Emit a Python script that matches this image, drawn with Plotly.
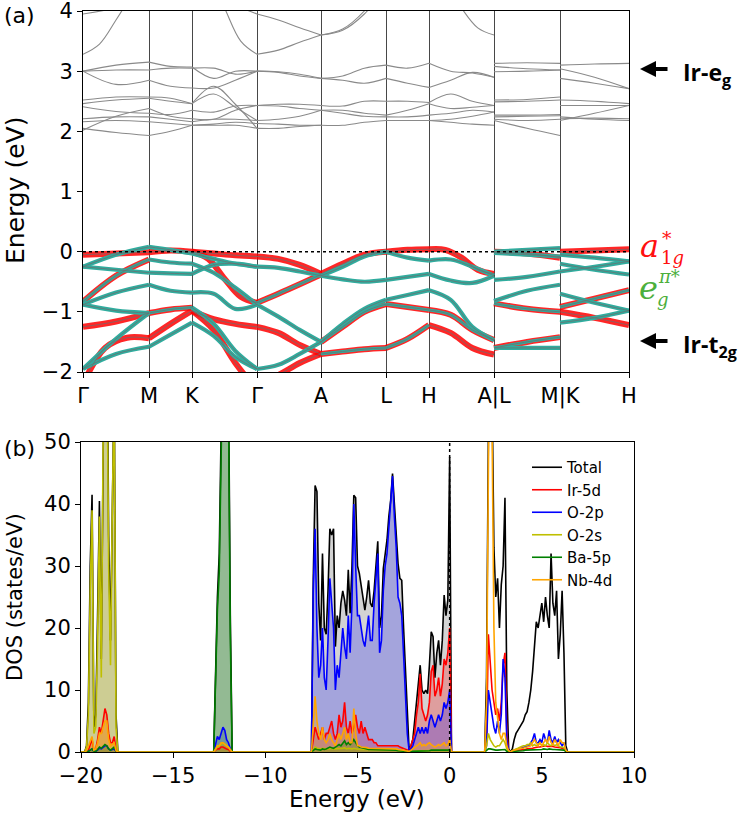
import plotly.graph_objects as go

FIG_W, FIG_H = 738, 813


def px(x):
    return x / FIG_W


def py(y):
    return 1 - y / FIG_H


# ---------------- band structure (panel a) ----------------
K_POS = [0, 66, 109, 174, 238, 303, 346, 411, 477, 546]
K_LABELS = ["Γ", "M", "K", "Γ", "A", "L", "H", "A|L", "M|K", "H"]

# valence (Ir t2g) bands per path segment; kind r = a1g* (red), t = eg(pi*) (teal), m = mixed
VB_GM = [("r", [-0.05, -0.03, -0.01]), ("t", [-0.25, -0.05, 0.08]), ("t", [-0.25, -0.30, -0.35]),
         ("m", [-0.83, -0.40, -0.13]), ("t", [-0.88, -0.68, -0.55]), ("t", [-0.88, -0.98, -1.02]),
         ("r", [-1.25, -1.16, -1.02]), ("t", [-1.95, -1.45, -1.02]), ("r", [-2.2, -1.6, -1.43, -1.44]),
         ("t", [-1.95, -1.7, -1.58])]
VB_MK = [("r", [-0.01, 0.02, 0.0]), ("t", [0.08, 0.03, -0.03]), ("t", [-0.13, -0.18, -0.2]),
         ("t", [-0.35, -0.36, -0.37]), ("t", [-0.55, -0.65, -0.68]), ("m", [-1.02, -0.96, -0.93]),
         ("r", [-1.44, -1.2, -0.98]), ("t", [-1.58, -1.38, -1.18])]
VB_KG = [("r", [0.0, -0.03, -0.06, -0.08]), ("r", [0.0, -0.12, -0.45, -0.75, -0.85]),
         ("t", [-0.03, -0.12, -0.2, -0.25]), ("t", [-0.2, -0.35, -0.6, -0.88]),
         ("t", [-0.37, -0.22, -0.2, -0.25]), ("t", [-0.68, -0.7, -0.95, -0.88]),
         ("r", [-0.98, -1.12, -1.2, -1.25]), ("t", [-0.93, -1.2, -1.65, -1.95]),
         ("r", [-0.98, -1.3, -1.85, -2.3]), ("t", [-1.18, -1.4, -1.75, -1.95])]
VB_GA = [("r", [-0.08, -0.12, -0.22, -0.37]), ("m", [-0.85, -0.7, -0.54, -0.38]),
         ("t", [-0.25, -0.27, -0.33, -0.4]), ("t", [-0.88, -1.08, -1.3, -1.5]),
         ("t", [-1.95, -1.88, -1.7, -1.5]), ("r", [-1.25, -1.35, -1.55, -1.7]),
         ("r", [-2.2, -2.05, -1.85, -1.7])]
VB_AL = [("r", [-0.37, -0.2, -0.05, 0.0]), ("t", [-0.4, -0.25, -0.08, 0.0]),
         ("t", [-0.4, -0.46, -0.5, -0.47]), ("t", [-1.5, -1.2, -0.95, -0.8]),
         ("m", [-1.5, -1.25, -1.0, -0.87]), ("m", [-1.7, -1.66, -1.62, -1.6])]
VB_LH = [("r", [0.0, 0.03, 0.04]), ("t", [0.0, -0.1, -0.15]), ("t", [-0.47, -0.42, -0.37]),
         ("t", [-0.8, -0.72, -0.64]), ("m", [-0.87, -0.92, -0.97]), ("m", [-1.6, -1.45, -1.22])]
VB_HA = [("r", [0.04, 0.03, -0.1, -0.3, -0.37]), ("t", [-0.15, -0.13, -0.25, -0.4]),
         ("t", [-0.37, -0.48, -0.52, -0.4]), ("t", [-0.64, -0.8, -1.25, -1.47]),
         ("m", [-0.97, -1.05, -1.3, -1.47]), ("r", [-1.22, -1.35, -1.6, -1.71])]
VB_LM = [("r", [0.0, -0.03, -0.1]), ("t", [0.0, 0.03, 0.06]), ("t", [-0.02, -0.05, -0.08]),
         ("t", [-0.47, -0.42, -0.33]), ("t", [-0.82, -0.65, -0.55]), ("m", [-0.86, -0.95, -1.0]),
         ("m", [-1.6, -1.5, -1.42]), ("t", [-1.6, -1.6, -1.6])]
VB_KH = [("r", [0.0, 0.02, 0.04]), ("t", [-0.05, -0.1, -0.16]), ("t", [-0.2, -0.3, -0.38]),
         ("t", [-0.33, -0.25, -0.16]), ("t", [-0.7, -0.85, -0.98]), ("m", [-0.92, -0.78, -0.64]),
         ("r", [-1.0, -1.1, -1.22]), ("t", [-1.18, -1.1, -0.98])]

# conduction bands (grey)
CB_GM = [[3.0, 3.1, 3.15], [3.0, 3.02, 3.02], [3.0, 2.78, 2.85], [2.52, 2.57, 2.57],
         [2.46, 2.52, 2.55], [2.41, 2.33, 2.3], [2.21, 2.24, 2.24], [2.16, 2.18, 2.16],
         [2.02, 2.25, 2.38], [2.05, 1.98, 1.93], [3.28, 3.45, 3.85, 4.3, 4.8], [3.95, 4.05, 4.2]]
CB_MK = [[3.15, 3.08, 3.07], [3.02, 3.05, 3.05], [2.85, 2.75, 2.72], [2.57, 2.55, 2.46],
         [2.55, 2.5, 2.46], [2.3, 2.28, 2.35], [2.38, 2.25, 2.21], [2.24, 2.2, 2.16],
         [2.16, 2.13, 2.1], [1.93, 2.0, 2.1]]
CB_KG = [[3.07, 2.88, 3.0, 3.0], [3.05, 3.05, 2.95, 3.0], [2.72, 2.72, 2.85, 3.0],
         [2.46, 2.75, 2.45, 2.05], [2.46, 2.62, 2.4, 2.18], [2.35, 2.32, 2.42, 2.43],
         [2.21, 2.2, 2.35, 2.43], [2.16, 2.2, 2.2, 2.18], [2.1, 2.12, 2.15, 2.13],
         [2.1, 2.1, 2.1, 2.05], [5.0, 4.6, 4.05, 3.5, 3.28], [4.5, 4.3, 4.1, 3.95]]
CB_GA = [[3.28, 3.35, 3.48, 3.6], [3.95, 3.85, 3.72, 3.6], [3.0, 2.98, 2.92, 2.88],
         [3.0, 2.99, 2.95, 2.88], [2.43, 2.45, 2.45, 2.43], [2.43, 2.42, 2.38, 2.35],
         [2.18, 2.2, 2.25, 2.35], [2.05, 2.05, 2.08, 2.1], [2.13, 2.12, 2.1, 2.1]]
CB_AL = [[3.6, 3.7, 4.0, 4.5], [3.6, 3.68, 3.95, 4.4], [2.88, 2.92, 3.05, 3.1],
         [2.88, 2.85, 2.8, 2.88], [2.43, 2.42, 2.5, 2.5], [2.35, 2.35, 2.3, 2.27],
         [2.35, 2.3, 2.25, 2.24], [2.1, 2.1, 2.15, 2.18]]
CB_LH = [[3.1, 3.05, 3.13], [2.88, 2.8, 2.73], [2.5, 2.5, 2.48], [2.27, 2.35, 2.46],
         [2.24, 2.24, 2.27], [2.18, 2.18, 2.18]]
CB_HA = [[3.13, 3.0, 2.97, 2.9], [2.73, 2.85, 2.98, 2.9], [2.48, 2.62, 2.5, 2.43],
         [2.46, 2.38, 2.4, 2.43], [2.27, 2.3, 2.35, 2.32], [2.18, 2.2, 2.25, 2.32],
         [2.18, 2.15, 2.12, 2.1], [5.0, 4.5, 4.05, 3.72, 3.6]]
CB_LM = [[3.13, 3.14, 3.13], [3.08, 3.04, 3.02], [2.99, 3.0, 3.02], [2.52, 2.53, 2.57],
         [2.49, 2.5, 2.52], [2.27, 2.27, 2.28], [2.24, 2.25, 2.26], [2.18, 2.05, 1.93],
         [2.2, 2.18, 2.2]]
CB_KH = [[3.1, 3.12, 3.13], [3.04, 2.9, 2.71], [2.88, 2.8, 2.71], [2.52, 2.5, 2.46],
         [2.43, 2.43, 2.43], [2.24, 2.2, 2.18], [2.21, 2.22, 2.21], [2.18, 2.3, 2.43]]

VB_SEGS = [VB_GM, VB_MK, VB_KG, VB_GA, VB_AL, VB_LH, VB_HA, VB_LM, VB_KH]
CB_SEGS = [CB_GM, CB_MK, CB_KG, CB_GA, CB_AL, CB_LH, CB_HA, CB_LM, CB_KH]

# ---------------- DOS (panel b) ----------------
E_A = [-19.8, -19.7, -19.6, -19.5, -19.4, -19.3, -19.2, -19.1, -19.0, -18.9,
       -18.8, -18.7, -18.6, -18.5, -18.4, -18.3, -18.2, -18.1, -18.0]
E_B = [-12.8, -12.7, -12.6, -12.5, -12.4, -12.3, -12.2, -12.1, -12.0, -11.9, -11.8]
E_C = [-7.5, -7.4, -7.3, -7.2, -7.1, -7.0, -6.9, -6.8, -6.7, -6.6,
       -6.5, -6.4, -6.3, -6.2, -6.1, -6.0, -5.9, -5.8, -5.7, -5.6,
       -5.5, -5.4, -5.3, -5.2, -5.1, -5.0, -4.9, -4.8, -4.7, -4.6,
       -4.5, -4.4, -4.3, -4.2, -4.1, -4.0, -3.9, -3.8, -3.7, -3.6,
       -3.5, -3.4, -3.3, -3.2, -3.1, -3.0, -2.9, -2.8, -2.7, -2.6,
       -2.5, -2.4, -2.3, -2.2, -2.1, -2.0, -1.9, -1.8, -1.7, -1.6,
       -1.5, -1.4, -1.3, -1.2, -1.1, -1.0, -0.9, -0.8, -0.7, -0.6,
       -0.5, -0.4, -0.3, -0.2, -0.1, 0.0, 0.1]
E_D = [1.9, 2.0, 2.1, 2.2, 2.3, 2.4, 2.5, 2.6, 2.7, 2.8,
       2.9, 3.0, 3.1, 3.2, 3.3, 3.4, 3.5, 3.6, 3.7, 3.8,
       3.9, 4.0, 4.1, 4.2, 4.3, 4.4, 4.5, 4.6, 4.7, 4.8,
       4.9, 5.0, 5.1, 5.2, 5.3, 5.4, 5.5, 5.6, 5.7, 5.8,
       5.9, 6.0, 6.1, 6.2, 6.3, 6.4]

TOT_A = [0, 1, 8, 30, 41.5, 4, 6, 22, 40.5, 15, 55, 80, 75, 35, 18, 43, 60, 6, 0]
IR_A = [0, 0, 0.3, 1, 2, 0.3, 0.5, 2, 4, 3, 5, 7, 6, 3, 1.5, 1.5, 2.5, 0.3, 0]
OP_A = [0, 0, 0.1, 0.3, 0.5, 0.1, 0.1, 0.3, 0.6, 0.5, 0.8, 1, 1, 0.5, 0.3, 0.4, 0.5, 0.1, 0]
OS_A = [0, 0.8, 6, 26, 39, 3, 4, 18, 38, 12, 50, 72, 68, 30, 14, 40, 58, 4, 0]
BA_A = [0, 0, 0.1, 0.3, 0.5, 0.1, 0.1, 0.4, 0.8, 0.6, 1, 1.2, 1, 0.5, 0.3, 0.5, 0.8, 0.1, 0]
NB_A = [0, 0.2, 1, 2, 2.5, 0.3, 0.5, 1.5, 3, 3, 4, 5, 5, 2, 1, 1.2, 1.5, 0.2, 0]

TOT_B = [0, 14, 25, 32, 60, 85, 90, 75, 60, 22, 0]
IR_B = [0, 0.3, 0.5, 0.5, 0.8, 0.8, 0.6, 0.5, 0.4, 0.1, 0]
OP_B = [0, 1.5, 2.5, 2, 3, 4, 3.5, 2, 1.5, 0.5, 0]
OS_B = [0, 0.5, 0.8, 1, 1.2, 1.5, 1.3, 1, 0.8, 0.3, 0]
BA_B = [0, 13, 23, 29, 56, 80, 84, 70, 56, 19, 0]
NB_B = [0, 0.5, 1, 1, 1.5, 1.5, 1.2, 1, 0.8, 0.3, 0]

TOT_C = [0, 28, 43, 42, 24, 18, 32, 20, 19, 26,
         36, 35, 36, 17, 22, 20, 24, 26, 24.5, 22,
         29.4, 22.4, 30, 41.4, 41, 30, 28.8, 26.6, 25, 22.9,
         25, 27.7, 24, 23.4, 26, 31, 34, 20, 22, 29.6,
         32, 34.2, 38, 40.6, 44.9, 39.6, 36, 30.4, 28, 27.7,
         20, 12.7, 5, 0.3, 1, 2, 5, 8, 10, 14,
         10, 9.4, 10, 9.4, 14, 19.4, 18.6, 12, 15.9, 18,
         14, 18, 25.3, 22, 24.5, 47.6, 0]
IR_C = [0, 2, 4, 3, 2, 3, 4, 2, 3, 3,
        4, 5, 3, 2, 3, 6, 4, 5, 8, 4,
        3, 5, 3, 4, 6, 4, 3, 5, 3, 4,
        3, 2, 2, 2, 1.5, 1.5, 1, 1, 1, 1,
        1, 1, 1, 1, 1, 1, 1, 1, 0.8, 0.7,
        0.5, 0.4, 0.3, 0.2, 1, 2, 3, 6, 8, 12.6,
        7, 6, 5, 6, 8, 13, 14, 9, 10, 12,
        9, 11, 15, 14, 16, 20, 0]
OP_C = [0, 26, 36, 20, 12, 14, 20, 12, 10, 18,
        28, 24, 20, 10, 14, 12, 16, 20, 17, 15,
        22, 16, 24, 40, 30, 22, 22, 20, 18, 17,
        20, 22, 18, 18, 24, 29, 32, 16, 18, 26,
        30, 32, 36, 40, 44.5, 38, 33, 25, 24, 22,
        15, 8, 3, 0.2, 0.5, 1, 2, 3, 4, 3,
        4, 3, 4, 3, 5, 6, 5, 4, 5, 6,
        5, 6, 8, 7, 8, 10, 0]
OS_C = [0, 0.5, 0.8, 0.6, 0.5, 0.5, 0.6, 0.5, 0.5, 0.5,
        0.6, 0.6, 0.5, 0.5, 0.5, 0.6, 0.5, 0.6, 0.7, 0.5,
        0.6, 0.5, 0.5, 0.6, 0.5, 0.5, 0.4, 0.4, 0.4, 0.4,
        0.4, 0.4, 0.4, 0.3, 0.3, 0.3, 0.3, 0.3, 0.3, 0.3,
        0.3, 0.3, 0.3, 0.3, 0.3, 0.3, 0.3, 0.3, 0.2, 0.2,
        0.2, 0.1, 0.1, 0, 0.1, 0.1, 0.1, 0.2, 0.2, 0.2,
        0.2, 0.2, 0.2, 0.2, 0.2, 0.2, 0.2, 0.2, 0.2, 0.2,
        0.2, 0.2, 0.2, 0.2, 0.2, 0.3, 0]
BA_C = [0, 0.3, 0.5, 0.4, 0.3, 0.3, 0.5, 0.4, 0.5, 0.6,
        0.8, 0.7, 0.6, 0.8, 1, 1.2, 1, 1.5, 1.8, 1.2,
        1.5, 1.2, 1.5, 2, 1.5, 1, 0.8, 0.7, 0.6, 0.5,
        0.5, 0.4, 0.4, 0.4, 0.3, 0.3, 0.3, 0.3, 0.3, 0.3,
        0.3, 0.3, 0.3, 0.3, 0.3, 0.3, 0.3, 0.2, 0.2, 0.2,
        0.1, 0.1, 0.05, 0, 0.05, 0.1, 0.1, 0.2, 0.2, 0.2,
        0.2, 0.2, 0.2, 0.2, 0.2, 0.3, 0.3, 0.2, 0.2, 0.3,
        0.2, 0.3, 0.3, 0.3, 0.3, 0.4, 0]
NB_C = [0, 5, 9, 5, 3, 2, 4, 2, 1.5, 2,
        3, 2, 1.5, 1, 2, 3, 2, 3, 4, 2,
        3, 1.5, 1.5, 7, 3, 1, 1, 0.8, 0.8, 0.7,
        0.7, 0.6, 0.6, 0.5, 0.5, 0.5, 0.5, 0.5, 0.5, 0.5,
        0.5, 0.5, 0.5, 0.5, 0.5, 0.5, 0.5, 0.4, 0.4, 0.3,
        0.3, 0.2, 0.2, 0.1, 0.3, 0.5, 0.8, 1, 1.2, 1.5,
        1, 1.2, 1, 1.3, 1.5, 1.2, 1, 0.8, 1, 1.2,
        1, 1.2, 1.5, 1, 1.2, 2, 0]

TOT_D = [0, 12, 55, 90, 58, 33, 25, 28, 20, 27,
         30, 41, 10, 0.5, 0, 0.5, 2, 3, 3.5, 4,
         4.5, 5, 6, 6.5, 8, 10, 13, 17, 21, 20,
         22, 24, 21, 25, 22, 20, 32, 24, 22, 26,
         15, 19, 26, 16, 1, 0]
IR_D = [0, 2, 19, 15, 10, 8, 6, 7, 5, 8,
        14, 16, 3, 0.2, 0, 0.1, 0.2, 0.2, 0.3, 0.3,
        0.3, 0.4, 0.4, 0.5, 0.5, 0.6, 0.6, 0.7, 0.8, 0.8,
        0.8, 0.9, 0.9, 1, 0.9, 0.9, 1, 0.9, 0.8, 0.8,
        0.7, 0.7, 0.6, 0.5, 0.1, 0]
OP_D = [0, 1, 10, 8, 6, 4, 3, 5, 3, 6,
        15, 12, 2, 0.2, 0, 0.2, 0.3, 0.4, 0.5, 0.6,
        0.6, 0.7, 0.8, 1, 1, 1.5, 2, 3, 1.5, 1.5,
        2, 1.5, 3, 2, 1.5, 3.5, 2, 1.5, 2.5, 1.5,
        2, 1.5, 1, 1.5, 0.3, 0]
OS_D = [0, 1, 3, 2, 1.5, 1, 0.8, 1, 1, 1.5,
        2, 1.5, 0.5, 0.1, 0, 0.2, 0.4, 0.5, 0.6, 0.8,
        0.9, 1, 1, 1.2, 1.2, 1.5, 1, 1.2, 1, 1.2,
        1.5, 1, 1.2, 1, 1.5, 1.2, 1, 1.3, 1, 1.2,
        1, 0.8, 0.8, 0.7, 0.2, 0]
BA_D = [0, 0.2, 0.5, 0.5, 0.4, 0.3, 0.3, 0.3, 0.3, 0.3,
        0.4, 0.4, 0.1, 0, 0, 0.1, 0.1, 0.2, 0.2, 0.2,
        0.2, 0.2, 0.3, 0.3, 0.3, 0.3, 0.3, 0.4, 0.4, 0.4,
        0.4, 0.4, 0.5, 0.4, 0.4, 0.5, 0.4, 0.4, 0.4, 0.4,
        0.3, 0.3, 0.3, 0.3, 0.1, 0]
NB_D = [0, 8, 45, 80, 52, 20, 8, 5, 3, 2,
        3, 3, 1, 0.2, 0, 0.2, 0.3, 0.4, 0.5, 0.5,
        0.6, 0.6, 0.7, 0.8, 0.8, 1, 1.5, 2, 1.5, 1,
        1.5, 1, 1.5, 2, 1.5, 2.5, 1.5, 1.2, 2, 1.5,
        1, 2, 1.5, 1.5, 0.3, 0]

DOS_NAMES = ["Total", "Ir-5d", "O-2p", "O-2s", "Ba-5p", "Nb-4d"]
DOS_PARTS = [(TOT_A, TOT_B, TOT_C, TOT_D), (IR_A, IR_B, IR_C, IR_D), (OP_A, OP_B, OP_C, OP_D),
             (OS_A, OS_B, OS_C, OS_D), (BA_A, BA_B, BA_C, BA_D), (NB_A, NB_B, NB_C, NB_D)]
DOS_COLORS = ["#000000", "#ff0000", "#0000ff", "#bfbf00", "#008000", "#ffa500"]
DOS_FILLS = ["rgba(128,128,128,0.35)", "rgba(255,0,0,0.25)", "rgba(0,0,255,0.22)",
             "rgba(191,191,0,0.3)", "rgba(0,128,0,0.3)", "rgba(255,165,0,0.3)"]

FONT = "DejaVu Sans"

fig = go.Figure()


def collect_vb(kinds):
    xs, ys = [], []
    for i, seg in enumerate(VB_SEGS):
        k0, k1 = K_POS[i], K_POS[i + 1]
        for kind, vals in seg:
            if kind not in kinds:
                continue
            n = len(vals)
            for j, v in enumerate(vals):
                xs.append(k0 + (k1 - k0) * j / (n - 1))
                ys.append(v)
            xs.append(None)
            ys.append(None)
    return xs, ys


def collect_cb():
    xs, ys = [], []
    for i, seg in enumerate(CB_SEGS):
        k0, k1 = K_POS[i], K_POS[i + 1]
        for vals in seg:
            n = len(vals)
            for j, v in enumerate(vals):
                xs.append(k0 + (k1 - k0) * j / (n - 1))
                ys.append(v)
            xs.append(None)
            ys.append(None)
    return xs, ys


def band_trace(xy, color, width):
    return go.Scatter(x=xy[0], y=xy[1], mode="lines", showlegend=False, hoverinfo="skip",
                      line=dict(color=color, width=width, shape="spline", smoothing=1.0),
                      connectgaps=False, xaxis="x", yaxis="y")


fig.add_trace(band_trace(collect_cb(), "#8a8a8a", 1.1))
fig.add_trace(band_trace(collect_vb({"r", "m"}), "rgba(255,0,0,0.85)", 6))
fig.add_trace(band_trace(collect_vb({"t"}), "#30ac9e", 4.2))
fig.add_trace(band_trace(collect_vb({"m"}), "#30ac9e", 3))
fig.add_trace(band_trace(collect_vb({"r", "m", "t"}), "rgba(110,110,110,0.75)", 1))

# DOS
E_ALL = [-20.0] + E_A + E_B + E_C + E_D + [10.0]
series = [[0] + a + b + c + d + [0] for (a, b, c, d) in DOS_PARTS]

for vals, fc in zip(series, DOS_FILLS):
    xo = [e for e in E_ALL if e <= 0.0001]
    yo = [v for e, v in zip(E_ALL, vals) if e <= 0.0001]
    fig.add_trace(go.Scatter(x=xo, y=yo, mode="lines", fill="tozeroy", fillcolor=fc,
                             line=dict(width=0, color=fc), showlegend=False, hoverinfo="skip",
                             xaxis="x2", yaxis="y2"))
for name, vals, col in zip(DOS_NAMES, series, DOS_COLORS):
    fig.add_trace(go.Scatter(x=E_ALL, y=vals, mode="lines", name=name,
                             line=dict(color=col, width=1.6), xaxis="x2", yaxis="y2"))

shapes = [
    dict(type="line", xref="x", yref="y", x0=K_POS[0], x1=K_POS[-1], y0=0, y1=0,
         line=dict(color="black", width=1.5, dash="dot")),
    dict(type="line", xref="x2", yref="y2", x0=0, x1=0, y0=0, y1=50,
         line=dict(color="black", width=1.5, dash="dot")),
]

ann = []


def text(t, x, y, size, color="black", xanchor="center", yanchor="middle", angle=0, family=FONT):
    ann.append(dict(text=t, x=px(x), y=py(y), xref="paper", yref="paper", showarrow=False,
                    xanchor=xanchor, yanchor=yanchor, textangle=angle,
                    font=dict(size=size, color=color, family=family)))


text("(a)", 2, 16, 22, xanchor="left")
text("(b)", 2, 449, 22, xanchor="left")
text("Energy (eV)", 15, 191, 25, angle=-90)
text("DOS (states/eV)", 15, 597, 21, angle=-90)
text("Energy (eV)", 357, 799, 23)

text("<b>Ir-e<sub>g</sub></b>", 681, 73, 23, xanchor="left", family="Open Sans")
text("<b>Ir-t<sub>2g</sub></b>", 681, 345, 23, xanchor="left", family="Open Sans")
for yy in (69, 341):
    ann.append(dict(x=px(640), y=py(yy), ax=29, ay=0, xref="paper", yref="paper",
                    axref="pixel", ayref="pixel", text="", showarrow=True, arrowhead=2,
                    arrowsize=0.8, arrowwidth=4, arrowcolor="black"))

RED = "#ff1010"
GREEN = "#4caf3c"
text("<i>a</i>", 649, 246, 32, RED, family="DejaVu Serif")
text("*", 667, 238, 19, RED, family="DejaVu Serif")
text("1<i>g</i>", 672, 258, 18, RED, family="DejaVu Serif")
text("<i>e</i>", 648, 288, 32, GREEN, family="DejaVu Serif")
text("<i>π</i>*", 669, 276, 18, GREEN, family="DejaVu Serif")
text("<i>g</i>", 663, 299, 18, GREEN, family="DejaVu Serif")

axis_common = dict(showline=True, linecolor="black", linewidth=1, mirror=True, ticks="outside",
                   ticklen=5, tickcolor="black", zeroline=False, automargin=False,
                   ticklabeloverflow="allow",
                   tickfont=dict(size=21, family=FONT, color="black"))

fig.update_layout(
    width=FIG_W, height=FIG_H, margin=dict(l=0, r=0, t=0, b=0, pad=0, autoexpand=False),
    paper_bgcolor="white", plot_bgcolor="white",
    font=dict(family=FONT, color="black"),
    shapes=shapes, annotations=ann,
    xaxis=dict(domain=[px(83), px(629)], anchor="y", range=[K_POS[0], K_POS[-1]],
               tickvals=K_POS, ticktext=K_LABELS, showgrid=True, gridcolor="rgba(40,40,40,0.85)",
               gridwidth=1, **axis_common),
    yaxis=dict(domain=[py(372), py(11)], anchor="x", range=[-2, 4], tickvals=[-2, -1, 0, 1, 2, 3, 4],
               showgrid=False, **axis_common),
    xaxis2=dict(domain=[px(81), px(634)], anchor="y2", range=[-20, 10],
                tickvals=[-20, -15, -10, -5, 0, 5, 10], showgrid=False, **axis_common),
    yaxis2=dict(domain=[py(752), py(442)], anchor="x2", range=[0, 50],
                tickvals=[0, 10, 20, 30, 40, 50], showgrid=False, **axis_common),
    legend=dict(x=px(527), y=py(451), xanchor="left", yanchor="top", bgcolor="rgba(0,0,0,0)",
                font=dict(size=15, family=FONT), tracegroupgap=0, itemwidth=30),
)

fig.write_html("out.html")
